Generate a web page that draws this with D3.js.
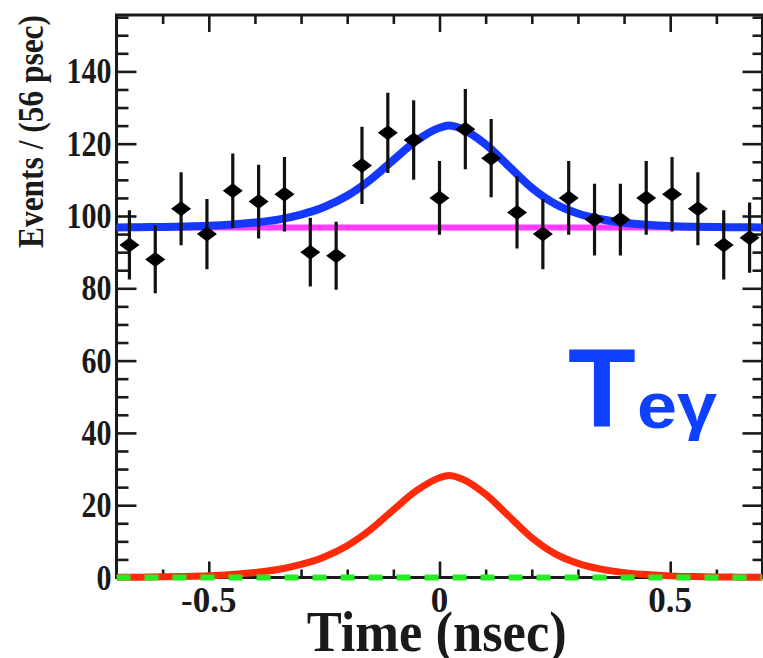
<!DOCTYPE html>
<html><head><meta charset="utf-8">
<script src="https://cdn.jsdelivr.net/npm/d3@7"></script>
<style>body{margin:0;background:#fff;overflow:hidden} svg{display:block}</style>
</head><body><svg id="c" width="763" height="658"></svg>
<script>
// ---- data ----
const binCenters = [-0.672,-0.616,-0.56,-0.504,-0.448,-0.392,-0.336,-0.28,-0.224,-0.168,-0.112,-0.056,0,0.056,0.112,0.168,0.224,0.28,0.336,0.392,0.448,0.504,0.56,0.616,0.672];
const counts = [92,88,102,95,107,104,106,90,89,114,123,121,105,124,116,101,95,105,99,99,105,106,102,92,94];
const errors = [9.6,9.4,10.1,9.7,10.3,10.2,10.3,9.5,9.4,10.7,11.1,11.0,10.2,11.1,10.8,10.0,9.7,10.2,9.9,9.9,10.2,10.3,10.1,9.6,9.7];
const curveX = [-0.7,-0.65,-0.6,-0.55,-0.5,-0.45,-0.4,-0.35,-0.3,-0.25,-0.2,-0.15,-0.1,-0.05,0,0.02,0.05,0.1,0.15,0.2,0.25,0.3,0.35,0.4,0.45,0.5,0.55,0.6,0.65,0.7];
const totalFit = [96.85,96.9,96.98,97.1,97.3,97.65,98.2,99.0,100.4,102.5,105.6,110.0,115.5,120.8,124.4,125.0,124.0,119.8,113.8,107.8,103.4,100.7,99.1,98.15,97.6,97.25,97.05,96.95,96.88,96.84];
const signalFit = [0.05,0.1,0.18,0.3,0.5,0.85,1.4,2.2,3.6,5.7,8.8,13.2,18.7,24.0,27.6,28.2,27.2,23.0,17.0,11.0,6.6,3.9,2.3,1.35,0.8,0.45,0.25,0.15,0.08,0.04];
const bkgX = [-0.7, 0.7];
const bkgFit = [96.8, 96.8];
const accX = [-0.7, 0.7];
const accFit = [0, 0];
const xMajor = [-0.5, 0, 0.5];
const xLabels = ["-0.5", "0", "0.5"];
const xMinor = [-0.6,-0.4,-0.3,-0.2,-0.1,0.1,0.2,0.3,0.4,0.6];
const yMajor = [0,20,40,60,80,100,120,140];
const yLabels = ["0","20","40","60","80","100","120","140"];
const yMinor = [5,10,15,25,30,35,45,50,55,65,70,75,85,90,95,105,110,115,125,130,135,145,150,155];

// ---- layout ----
const svg = d3.select("#c");
const L = 116.5, R = 762.5, T = 15, B = 577.5;
const x = d3.scaleLinear().domain([-0.7, 0.7]).range([L, R]);
const y = d3.scaleLinear().domain([0, 155.6]).range([B, T]);
const ink = "#1a1a1a";

// axes (ticks inward)
function ax(gen, tr, vals, size){
  const a = svg.append("g").attr("transform", tr)
    .call(gen.tickValues(vals).tickSize(size).tickFormat(""));
  a.select(".domain").remove();
  a.selectAll("line").attr("stroke", ink).attr("stroke-width", 2.6);
}
ax(d3.axisLeft(y), `translate(${L},0)`, yMajor, -20);
ax(d3.axisLeft(y), `translate(${L},0)`, yMinor, -12);
ax(d3.axisRight(y), `translate(${R},0)`, yMajor, -20);
ax(d3.axisRight(y), `translate(${R},0)`, yMinor, -10);
ax(d3.axisBottom(x), `translate(0,${B})`, xMajor, -16);
ax(d3.axisBottom(x), `translate(0,${B})`, xMinor, -8);
ax(d3.axisTop(x), `translate(0,${T})`, xMajor, -17);
ax(d3.axisTop(x), `translate(0,${T})`, xMinor, -9);

// frame
svg.append("rect").attr("x",L).attr("y",T).attr("width",R-L).attr("height",B-T)
  .attr("fill","none").attr("stroke",ink).attr("stroke-width",3);

svg.append("clipPath").attr("id","pc").append("rect")
  .attr("x", L).attr("y", T).attr("width", R-L).attr("height", B-T+5);
const g = svg.append("g").attr("clip-path","url(#pc)");

const line = (xs, ys) => d3.line().x((d,i)=>x(xs[i])).y((d,i)=>y(ys[i])).curve(d3.curveMonotoneX)(ys);

// background (magenta)
g.append("path").attr("d", line(bkgX, bkgFit)).attr("fill","none")
  .attr("stroke","#ff3cff").attr("stroke-width",6);
// total fit (blue)
g.append("path").attr("d", line(curveX, totalFit)).attr("fill","none")
  .attr("stroke","#1438ff").attr("stroke-width",8);
// signal (red)
g.append("path").attr("d", line(curveX, signalFit)).attr("fill","none")
  .attr("stroke","#ff2a0a").attr("stroke-width",7);
// accidental (green dashed)
g.append("path").attr("d", line(accX, accFit)).attr("fill","none")
  .attr("stroke","#22ee22").attr("stroke-width",6).attr("stroke-dasharray","14,14");

// data points
const pts = g.append("g");
binCenters.forEach((c,i)=>{
  pts.append("line").attr("x1",x(c)).attr("x2",x(c))
    .attr("y1",y(counts[i]-errors[i])).attr("y2",y(counts[i]+errors[i]))
    .attr("stroke","#111").attr("stroke-width",3.2);
  pts.append("path").attr("d","M-10,0L0,-7.5L10,0L0,7.5Z")
    .attr("transform",`translate(${x(c)},${y(counts[i])})`).attr("fill","#000");
});

const serif = "'Liberation Serif','Times New Roman',serif";
// y tick labels
yMajor.forEach((v,i)=>{
  svg.append("text").attr("x",111.5).attr("y",y(v)+12)
    .attr("text-anchor","end").attr("font-family",serif).attr("font-weight","bold")
    .attr("font-size",35).attr("fill",ink)
    .attr("textLength", 15*yLabels[i].length).attr("lengthAdjust","spacingAndGlyphs")
    .text(yLabels[i]);
});
// x tick labels
xMajor.forEach((v,i)=>{
  svg.append("text").attr("x",x(v)).attr("y",612)
    .attr("text-anchor","middle").attr("font-family",serif).attr("font-weight","bold")
    .attr("font-size",35).attr("fill",ink).text(xLabels[i]);
});
// axis titles
svg.append("text").attr("x",306.7).attr("y",651)
  .attr("font-family",serif).attr("font-weight","bold").attr("font-size",56).attr("fill",ink)
  .attr("textLength",260).attr("lengthAdjust","spacingAndGlyphs").text("Time (nsec)");
svg.append("text").attr("transform","translate(43,131.5) rotate(-90)")
  .attr("text-anchor","middle")
  .attr("font-family",serif).attr("font-weight","bold").attr("font-size",35).attr("fill",ink)
  .attr("textLength",233).attr("lengthAdjust","spacingAndGlyphs").text("Events / (56 psec)");

// annotation
const sans = "'Liberation Sans',Arial,sans-serif";
svg.append("text").attr("x",568).attr("y",426)
  .attr("font-family",sans).attr("font-weight","bold").attr("font-size",111).attr("fill","#1040ff").text("T");
svg.append("text").attr("x",637).attr("y",428)
  .attr("font-family",sans).attr("font-weight","bold").attr("font-size",64).attr("fill","#1040ff")
  .attr("textLength",80).attr("lengthAdjust","spacingAndGlyphs").text("eγ");
</script>
</body></html>
